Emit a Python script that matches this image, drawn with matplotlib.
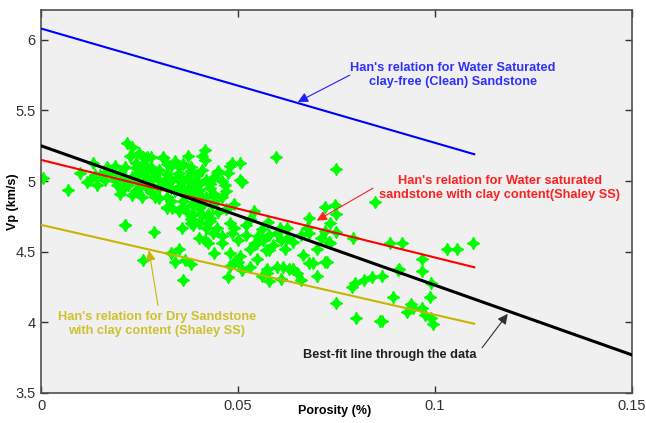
import numpy as np
import matplotlib
matplotlib.use('Agg')
import matplotlib.pyplot as plt

plt.rcParams['font.family'] = ['Liberation Sans', 'DejaVu Sans']

# datos: porosidad (fraccion) y Vp (km/s)
porosidad = [
    0.0005, 0.0069, 0.0099, 0.0132, 0.0124, 0.0117, 0.0142, 0.0137, 0.0150, 0.0162,
    0.0162, 0.0168, 0.0180, 0.0188, 0.0193, 0.0200, 0.0200, 0.0210, 0.0213, 0.0213,
    0.0218, 0.0220, 0.0226, 0.0230, 0.0230, 0.0240, 0.0240, 0.0250, 0.0250, 0.0250,
    0.0256, 0.0260, 0.0264, 0.0270, 0.0270, 0.0270, 0.0280, 0.0284, 0.0280, 0.0290,
    0.0300, 0.0300, 0.0310, 0.0310, 0.0315, 0.0330, 0.0330, 0.0320, 0.0332, 0.0320,
    0.0345, 0.0350, 0.0350, 0.0358, 0.0360, 0.0370, 0.0373, 0.0378, 0.0380, 0.0383,
    0.0386, 0.0386, 0.0396, 0.0400, 0.0400, 0.0410, 0.0410, 0.0416, 0.0416, 0.0410,
    0.0430, 0.0434, 0.0430, 0.0440, 0.0447, 0.0460, 0.0467, 0.0475, 0.0485, 0.0505,
    0.0505, 0.0480, 0.0510, 0.0420, 0.0358, 0.0380, 0.0447, 0.0480, 0.0490, 0.0520,
    0.0540, 0.0320, 0.0370, 0.0424, 0.0386, 0.0420, 0.0437, 0.0416, 0.0460, 0.0480,
    0.0490, 0.0475, 0.0548, 0.0570, 0.0600, 0.0624, 0.0614, 0.0665, 0.0690, 0.0700,
    0.0720, 0.0574, 0.0600, 0.0640, 0.0660, 0.0365, 0.0350, 0.0330, 0.0340, 0.0400,
    0.0213, 0.0287, 0.0260, 0.0360, 0.0380, 0.0424, 0.0485, 0.0505, 0.0500, 0.0530,
    0.0543, 0.0548, 0.0563, 0.0580, 0.0574, 0.0610, 0.0630, 0.0650, 0.0680, 0.0726,
    0.0730, 0.0680, 0.0750, 0.0797, 0.0790, 0.0800, 0.0820, 0.0596, 0.0750, 0.0720,
    0.0746, 0.0749, 0.0680, 0.0576, 0.0624, 0.0607, 0.0675, 0.0733, 0.0848, 0.0733,
    0.0792, 0.0860, 0.0886, 0.0916, 0.0906, 0.0893, 0.0840, 0.0866, 0.0940, 0.0967,
    0.0967, 0.0990, 0.0987, 0.0967, 0.0990, 0.0995, 0.1030, 0.1056, 0.1096, 0.0944,
    0.0930, 0.0975, 0.0866, 0.0910, 0.0190, 0.0210, 0.0230, 0.0240, 0.0260, 0.0270,
    0.0280, 0.0290, 0.0300, 0.0310, 0.0320, 0.0330, 0.0340, 0.0350, 0.0360, 0.0370,
    0.0380, 0.0390, 0.0400, 0.0410, 0.0420, 0.0430, 0.0440, 0.0450, 0.0460, 0.0470,
    0.0320, 0.0340, 0.0360, 0.0280, 0.0260, 0.0240, 0.0300, 0.0330, 0.0360, 0.0390,
    0.0410, 0.0440, 0.0350, 0.0380, 0.0400, 0.0430, 0.0450, 0.0470, 0.0490, 0.0530,
    0.0560, 0.0550, 0.0580, 0.0590, 0.0620, 0.0640, 0.0660, 0.0710, 0.0700, 0.0720,
    0.0750, 0.0460, 0.0500, 0.0520, 0.0530, 0.0440, 0.0480, 0.0510, 0.0560, 0.0580,
    0.0610,
]
vp = [
    5.02, 4.94, 5.06, 5.13, 5.01, 4.99, 4.97, 5.04, 5.04, 5.06,
    5.01, 5.10, 5.04, 5.11, 4.97, 5.06, 4.91, 5.01, 5.10, 4.69,
    5.27, 4.97, 5.18, 5.24, 4.90, 5.01, 5.09, 5.20, 5.06, 4.95,
    4.89, 5.17, 4.99, 5.08, 4.95, 5.17, 5.17, 5.03, 4.97, 4.89,
    5.08, 4.95, 5.16, 5.17, 5.01, 5.11, 4.95, 4.89, 4.81, 4.81,
    5.03, 5.10, 4.96, 4.82, 4.91, 5.02, 5.18, 4.96, 5.10, 4.83,
    4.90, 4.77, 5.04, 4.98, 4.81, 4.88, 4.76, 5.22, 5.15, 5.18,
    4.74, 4.83, 4.98, 4.91, 5.06, 4.89, 4.97, 5.06, 5.13, 5.13,
    5.01, 5.11, 4.99, 4.89, 4.67, 4.70, 4.67, 4.70, 4.67, 4.69,
    4.79, 4.82, 4.78, 4.77, 4.69, 4.67, 4.63, 4.58, 4.56, 4.49,
    4.43, 4.32, 4.56, 4.51, 4.63, 4.60, 4.39, 4.48, 4.42, 4.33,
    4.43, 4.35, 4.39, 4.38, 4.30, 4.44, 4.52, 4.49, 4.43, 4.60,
    4.69, 4.64, 4.44, 4.30, 4.41, 4.56, 4.63, 4.47, 4.43, 4.39,
    4.56, 4.45, 4.58, 4.51, 4.38, 4.58, 4.38, 4.35, 4.42, 4.43,
    4.57, 4.63, 4.14, 4.28, 4.25, 4.03, 4.30, 5.17, 5.085, 4.82,
    4.83, 4.77, 4.74, 4.71, 4.67, 4.67, 4.67, 4.70, 4.85, 4.56,
    4.60, 4.01, 4.56, 4.56, 4.37, 4.18, 4.32, 4.33, 4.13, 4.45,
    4.36, 4.28, 4.18, 4.10, 4.03, 3.99, 4.52, 4.52, 4.56, 4.10,
    4.07, 4.05, 4.01, 4.38, 5.00, 4.95, 5.03, 4.93, 5.05, 5.01,
    4.92, 5.06, 5.01, 4.98, 5.05, 5.00, 4.93, 5.06, 5.00, 4.94,
    5.07, 5.00, 4.94, 5.08, 5.01, 4.95, 5.03, 5.07, 5.00, 4.93,
    5.12, 5.14, 5.12, 5.10, 5.12, 5.13, 4.88, 4.86, 4.86, 4.85,
    4.83, 4.86, 4.79, 4.73, 4.70, 4.72, 4.78, 4.80, 4.84, 4.73,
    4.66, 4.61, 4.62, 4.55, 4.52, 4.57, 4.62, 4.60, 4.52, 4.65,
    4.64, 4.61, 4.58, 4.62, 4.52, 4.49, 4.40, 4.37, 4.33, 4.29,
    4.31,
]

# relaciones de Han y ajuste: extremos (porosidad, Vp)
phi_han = [0.0, 0.11]
vp_limpia = [6.08, 5.19]
vp_arcilla_sat = [5.15, 4.39]
vp_arcilla_seca = [4.69, 3.99]
phi_ajuste = [0.0, 0.15]
vp_ajuste = [5.25, 3.77]

amarillo = '#c8b400'

fig, ax = plt.subplots(figsize=(6.46, 4.23), dpi=100)
fig.subplots_adjust(left=0.0635, right=0.978, bottom=0.071, top=0.976)
ax.set_facecolor('#f0f0f0')

ax.plot(porosidad, vp, linestyle='none', marker=(4, 1, 0), markersize=9,
        color='#00ff00', markeredgewidth=0.8, zorder=2)
ax.plot(phi_han, vp_limpia, color='#0000ff', lw=1.5, zorder=3)
ax.plot(phi_han, vp_arcilla_sat, color='#ff0000', lw=1.5, zorder=3)
ax.plot(phi_han, vp_arcilla_seca, color=amarillo, lw=1.5, zorder=3)
ax.plot(phi_ajuste, vp_ajuste, color='black', lw=2.2, zorder=3)

def flecha(cola, punta, color):
    ax.annotate('', xy=punta, xytext=cola,
                arrowprops=dict(arrowstyle='-|>', color=color, lw=0.8,
                                mutation_scale=15, shrinkA=0, shrinkB=0),
                zorder=4)

tam = 9.2

flecha((0.0784, 5.75), (0.0652, 5.56), '#2020ff')
ax.text(0.1046, 5.75, "Han's relation for Water Saturated\nclay-free (Clean) Sandstone",
        color='#3030ff', fontsize=tam, fontweight='bold', ha='center', va='center',
        linespacing=1.2)

flecha((0.0843, 4.95), (0.0700, 4.72), '#ff2020')
ax.text(0.1165, 4.95, "Han's relation for Water saturated\nsandstone with clay content(Shaley SS)",
        color='#ff2020', fontsize=tam, fontweight='bold', ha='center', va='center',
        linespacing=1.2)

flecha((0.0297, 4.12), (0.0274, 4.51), amarillo)
ax.text(0.0294, 3.99, "Han's relation for Dry Sandstone\nwith clay content (Shaley SS)",
        color='#cfc030', fontsize=tam, fontweight='bold', ha='center', va='center',
        linespacing=1.2)

flecha((0.112, 3.82), (0.1185, 4.06), '#303030')
ax.text(0.0886, 3.77, "Best-fit line through the data",
        color='#202020', fontsize=tam, fontweight='bold', ha='center', va='center')

ax.set_xlim(0, 0.15)
ax.set_ylim(3.5, 6.21)
ax.set_xticks([0, 0.05, 0.1, 0.15])
ax.set_xticklabels(['0', '0.05', '0.1', '0.15'])
ax.set_yticks([3.5, 4, 4.5, 5, 5.5, 6])
ax.set_yticklabels(['3.5', '4', '4.5', '5', '5.5', '6'])
ax.tick_params(direction='in', length=5, width=1, top=True, right=True,
               labelsize=10.5, colors='#303030', pad=4)
for lado in ax.spines.values():
    lado.set_color('#505050')
    lado.set_linewidth(1.2)

ax.set_xlabel('Porosity (%)', fontsize=9, fontweight='bold')
ax.set_ylabel('Vp (km/s)', fontsize=9, fontweight='bold')
ax.xaxis.set_label_coords(0.497, -0.048)
ax.yaxis.set_label_coords(-0.047, 0.5)
ax.xaxis.label.set_va('center')
ax.yaxis.label.set_va('center')

fig.savefig('out.png', dpi=100, facecolor='white')
